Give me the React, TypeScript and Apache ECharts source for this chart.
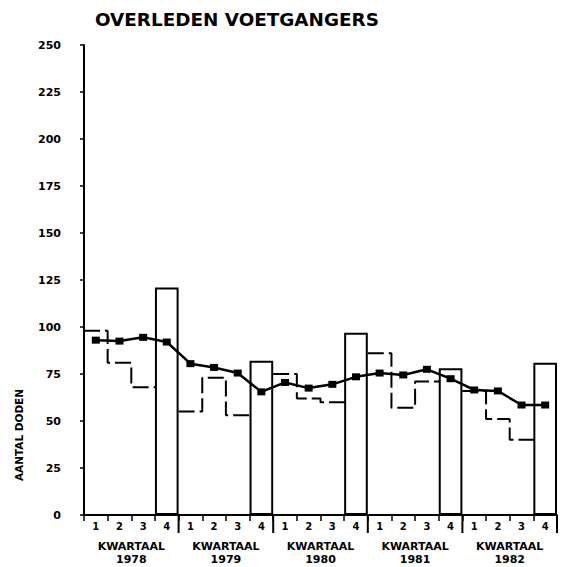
import React, { useEffect, useRef } from "react";
import * as echarts from "echarts";

const years = ["1978", "1979", "1980", "1981", "1982"];
const quarterLabels = ["1", "2", "3", "4"];
// quarterly deaths, quarters 1-3 of each year (dashed step line)
const quarterlyDeaths = [
  [98, 81, 68],
  [55, 73, 53],
  [75, 62, 60],
  [86, 57, 71],
  [66, 51, 40],
];
// fourth-quarter bars
const fourthQuarterBars = [121, 82, 97, 78, 81];
// moving average (solid line with markers)
const movingAverage = [93, 92.5, 94.5, 92, 80.5, 78.5, 75.5, 65.5, 70.5, 67.5, 69.5, 73.5, 75.5, 74.5, 77.5, 72.5, 66.5, 66, 58.5, 58.5];
const yTicks = [0, 25, 50, 75, 100, 125, 150, 175, 200, 225, 250];

const FONT = "DejaVu Sans";

export default function App() {
  const ref = useRef<HTMLDivElement>(null);
  useEffect(() => {
    if (!ref.current) return;
    const chart = echarts.init(ref.current, undefined, { renderer: "svg" });
    const categories: string[] = [];
    years.forEach((y) => quarterLabels.forEach((q) => categories.push(q + "-" + y)));
    const barData: (number | null)[] = [];
    years.forEach((_, yi) => quarterLabels.forEach((_q, qi) => barData.push(qi === 3 ? fourthQuarterBars[yi] : null)));
    const stepData: (number | null)[][] = [];
    quarterlyDeaths.forEach((qs, yi) => {
      const base = yi * 4;
      qs.forEach((v, qi) => stepData.push([base + qi, v]));
      stepData.push([base + 3, qs[qs.length - 1]]);
      stepData.push([base + 3.5, null]);
    });
    const n = categories.length;
    const yearEnds = years.map((_, i) => [(i + 1) * 4, 0]);

    chart.setOption({
      animation: false,
      backgroundColor: "#fff",
      textStyle: { fontFamily: FONT },
      grid: { left: 84, right: 10, top: 45, bottom: 52, outerBoundsMode: "none" },
      graphic: [
        {
          id: "title",
          type: "text",
          x: 95,
          y: 20,
          scaleX: 1.08,
          style: {
            text: "OVERLEDEN VOETGANGERS",
            font: `bold 17px "${FONT}"`,
            fill: "#000",
            textAlign: "left",
            textVerticalAlign: "middle",
          },
        },
        {
          id: "yname",
          type: "text",
          x: 19,
          y: 435,
          rotation: Math.PI / 2,
          style: {
            text: "AANTAL DODEN",
            font: `bold 10.5px "${FONT}"`,
            fill: "#000",
            textAlign: "center",
            textVerticalAlign: "middle",
          },
        },
      ],
      xAxis: [
        {
          type: "category",
          data: categories,
          position: "bottom",
          boundaryGap: true,
          axisLine: { show: true, onZero: false, lineStyle: { color: "#000", width: 2 } },
          axisTick: { show: true, interval: 0, length: 6, lineStyle: { color: "#000", width: 1.5 } },
          axisLabel: {
            interval: 0,
            margin: 6,
            color: "#000",
            fontSize: 10,
            fontWeight: "bold",
            fontFamily: FONT,
            formatter: (v: string) => v.split("-")[0],
          },
          splitLine: { show: false },
        },
        {
          type: "value",
          min: 0,
          max: n,
          position: "bottom",
          show: false,
          splitLine: { show: false },
        },
        {
          type: "category",
          data: years,
          position: "bottom",
          boundaryGap: true,
          axisLine: { show: false, onZero: false },
          axisTick: { show: false },
          splitLine: { show: false },
          axisLabel: {
            interval: 0,
            margin: 25,
            lineHeight: 13,
            fontSize: 11,
            fontWeight: "bold",
            fontFamily: FONT,
            color: "#000",
            align: "center",
            formatter: (v: string) => "KWARTAAL\n" + v,
          },
        },
      ],
      yAxis: {
        type: "value",
        min: yTicks[0],
        max: yTicks[yTicks.length - 1],
        interval: 25,
        offset: 7,
        axisLine: { show: true, lineStyle: { color: "#000", width: 2 } },
        axisTick: { show: true, length: 4, lineStyle: { color: "#000", width: 1.5 } },
        splitLine: { show: false },
        axisLabel: { margin: 16, color: "#000", fontSize: 11, fontWeight: "bold", fontFamily: FONT },
      },
      series: [
        {
          type: "line",
          xAxisIndex: 1,
          data: stepData,
          step: "end",
          symbol: "none",
          connectNulls: false,
          z: 1,
          lineStyle: { color: "#000", width: 2, type: [16, 5] },
        },
        {
          type: "bar",
          xAxisIndex: 0,
          data: barData,
          barWidth: "100%",
          z: 2,
          itemStyle: { color: "#fff", borderColor: "#000", borderWidth: 2 },
        },
        {
          type: "line",
          xAxisIndex: 0,
          data: movingAverage,
          z: 3,
          symbol: "rect",
          symbolSize: [8, 7],
          itemStyle: { color: "#000" },
          lineStyle: { color: "#000", width: 2.5 },
        },
        {
          type: "custom",
          xAxisIndex: 1,
          yAxisIndex: 0,
          data: yearEnds,
          clip: false,
          silent: true,
          z: 10,
          renderItem: (_params: any, api: any) => {
            const p = api.coord([api.value(0), api.value(1)]);
            return {
              type: "line",
              shape: { x1: p[0], y1: p[1], x2: p[0], y2: p[1] + 18 },
              style: { stroke: "#000", lineWidth: 2 },
            };
          },
        },
      ],
    });

    return () => chart.dispose();
  }, []);
  return <div ref={ref} style={{ position: "fixed", left: 0, top: 0, width: 567, height: 567 }} />;
}
